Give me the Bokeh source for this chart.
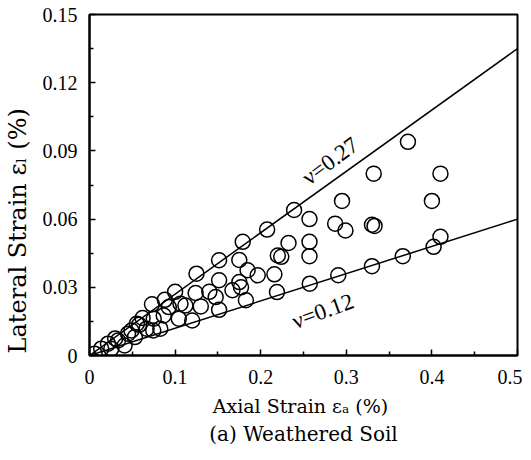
from bokeh.plotting import figure
from bokeh.models import FixedTicker, Label, Title
from bokeh.embed import file_html
from bokeh.resources import INLINE

# ---- data ----
axial = [0.372, 0.332, 0.410, 0.295, 0.400, 0.239, 0.257, 0.287, 0.299, 0.330,
         0.333, 0.2075, 0.179, 0.2325, 0.257, 0.220, 0.224, 0.257, 0.410, 0.402,
         0.366, 0.330, 0.2906, 0.2573, 0.219, 0.177, 0.1847, 0.1965, 0.216, 0.175,
         0.1514, 0.125, 0.1514, 0.175, 0.100, 0.124, 0.140, 0.1474, 0.167, 0.1827,
         0.1063, 0.130, 0.1514, 0.073, 0.0926, 0.112, 0.075, 0.0867, 0.1043, 0.120,
         0.0553, 0.049, 0.0827, 0.0667, 0.0745, 0.045, 0.053, 0.0333, 0.041, 0.0216,
         0.0137, 0.0255, 0.006, 0.062, 0.088, 0.058, 0.030]
lateral = [0.094, 0.080, 0.080, 0.068, 0.068, 0.064, 0.060, 0.058, 0.055, 0.0575,
           0.057, 0.0554, 0.050, 0.0495, 0.050, 0.044, 0.0434, 0.0437, 0.0522, 0.0478,
           0.0437, 0.0393, 0.0353, 0.0316, 0.0279, 0.030, 0.0375, 0.0353, 0.0357, 0.042,
           0.0419, 0.036, 0.0331, 0.0323, 0.028, 0.0275, 0.028, 0.0257, 0.0287, 0.0243,
           0.0228, 0.0216, 0.0201, 0.0225, 0.0213, 0.022, 0.0162, 0.0176, 0.0162, 0.0154,
           0.014, 0.011, 0.0118, 0.0118, 0.011, 0.0096, 0.0081, 0.0066, 0.0044, 0.0052,
           0.003, 0.003, 0.0008, 0.0165, 0.0245, 0.0135, 0.0075]

line_x = [0.0, 0.5]
upper_y = [0.0, 0.135]   # nu = 0.27
lower_y = [0.0, 0.060]   # nu = 0.12

x_ticks = [0, 0.1, 0.2, 0.3, 0.4, 0.5]
x_tick_labels = ["0", "0.1", "0.2", "0.3", "0.4", "0.5"]
x_minor = [0.05, 0.15, 0.25, 0.35, 0.45]
y_ticks = [0, 0.03, 0.06, 0.09, 0.12, 0.15]
y_tick_labels = ["0", "0.03", "0.06", "0.09", "0.12", "0.15"]
y_minor = [0.015, 0.045, 0.075, 0.105, 0.135]

SERIF = "DejaVu Serif"
TICKFONT = "Liberation Serif"

p = figure(width=522, height=450, x_range=(0, 0.5), y_range=(0, 0.15),
           output_backend="svg", toolbar_location=None,
           min_border_left=85, min_border_right=5, min_border_top=14,
           min_border_bottom=95)
p.xgrid.visible = False
p.ygrid.visible = False
p.outline_line_color = "black"
p.outline_line_width = 2
p.background_fill_color = "white"
p.border_fill_color = "white"

p.line(line_x, upper_y, line_color="black", line_width=1.5)
p.line(line_x, lower_y, line_color="black", line_width=1.5)
p.scatter(axial, lateral, marker="circle", size=15, fill_color=None,
          line_color="black", line_width=1.5)

for ax in (p.xaxis[0], p.yaxis[0]):
    ax.axis_line_width = 2
    ax.axis_line_color = "black"
    ax.major_tick_in = 6
    ax.major_tick_out = 0
    ax.minor_tick_in = 4
    ax.minor_tick_out = 0
    ax.major_tick_line_width = 1.5
    ax.minor_tick_line_width = 1.5
    ax.major_label_text_font = TICKFONT
    ax.major_label_text_font_size = "20px"
    ax.major_label_text_color = "black"
    ax.axis_label_text_font = SERIF
    ax.axis_label_text_font_style = "normal"
    ax.axis_label_text_color = "black"

p.xaxis.ticker = FixedTicker(ticks=x_ticks, minor_ticks=x_minor)
p.yaxis.ticker = FixedTicker(ticks=y_ticks, minor_ticks=y_minor)
p.xaxis.major_label_overrides = {t: l for t, l in zip(x_ticks, x_tick_labels)}
p.yaxis.major_label_overrides = {t: l for t, l in zip(y_ticks, y_tick_labels)}
p.xaxis.major_label_standoff = 14
p.yaxis.major_label_standoff = 12

p.xaxis.axis_label = "Axial Strain  \u03b5\u2090 (%)"
p.xaxis.axis_label_text_font_size = "19px"
p.xaxis.axis_label_standoff = 8

p.yaxis.axis_label = "Lateral Strain  \u03b5\u2097 (%)" + "\u00a0" * 11
p.yaxis.axis_label_text_font_size = "24px"
p.yaxis.axis_label_standoff = 8

p.add_layout(Title(text="(a) Weathered Soil", align="center",
                   text_font=SERIF, text_font_size="20px",
                   text_font_style="normal", text_color="black",
                   standoff=0), "below")

p.add_layout(Label(x=0.2514, y=0.0772, text="\u03bd=0.27", angle=0.64,
                   text_font=TICKFONT, text_font_size="23px",
                   text_align="left", text_baseline="alphabetic",
                   text_color="black"))
p.add_layout(Label(x=0.2376, y=0.0147, text="\u03bd=0.12", angle=0.35,
                   text_font=TICKFONT, text_font_size="23px",
                   text_align="left", text_baseline="alphabetic",
                   text_color="black"))

open("out.html", "w").write(file_html(p, INLINE))
